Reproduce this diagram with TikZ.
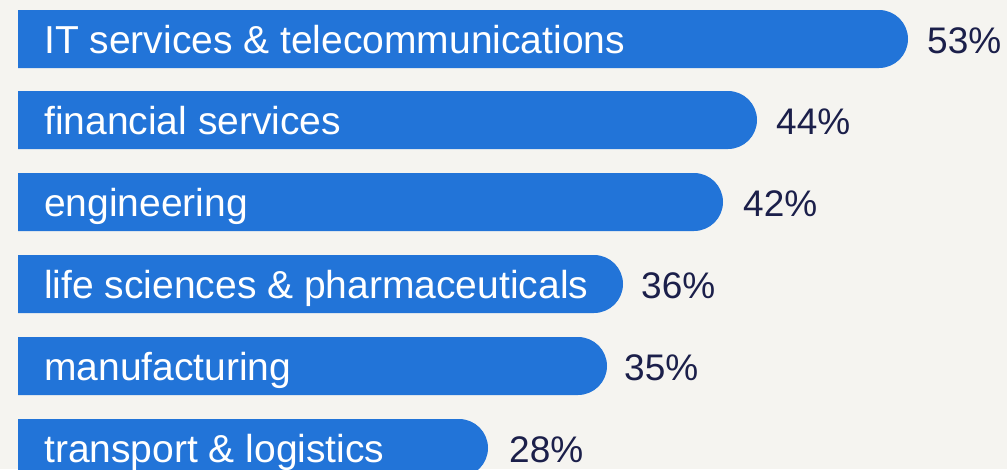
\documentclass[tikz,border=0pt]{standalone}
\usepackage{fontspec}
\setmainfont{Liberation Sans}
\definecolor{barblue}{HTML}{2274D8}
\definecolor{bgcol}{HTML}{F5F4F0}
\definecolor{pctcol}{HTML}{1B1F4A}
\tikzset{
  barshape/.style={fill=barblue},
  barlabel/.style={anchor=base west, inner sep=0pt, text=white, font=\fontsize{39}{42}\selectfont},
  pctlabel/.style={anchor=base west, inner sep=0pt, text=pctcol, font=\fontsize{37}{40}\selectfont}
}
\begin{document}
\begin{tikzpicture}[x=1pt,y=-1pt]
\useasboundingbox (0,0) rectangle (1007,469);
\fill[bgcol] (0,0) rectangle (1007,469);
\clip (0,0) rectangle (1007,469);
\foreach \t/\r/\lab/\px/\pc [count=\i] in {
  10/908/{IT services \& telecommunications}/927/53,
  91/757/{financial services}/776/44,
  173/723/{engineering}/743/42,
  255/623/{life sciences \& pharmaceuticals}/641/36,
  337/607/{manufacturing}/624/35,
  419/488/{transport \& logistics}/509/28}{
  \fill[barshape] (18,\t) -- (\r-29,\t) arc[start angle=90, end angle=-90, radius=29pt] -- (18,\t+58) -- cycle;
  \node[barlabel] (lab\i) at (44,\t+43) {\lab};
  \node[pctlabel] (pct\i) at (\px,\t+43) {\pc\%};
}
\end{tikzpicture}
\end{document}
